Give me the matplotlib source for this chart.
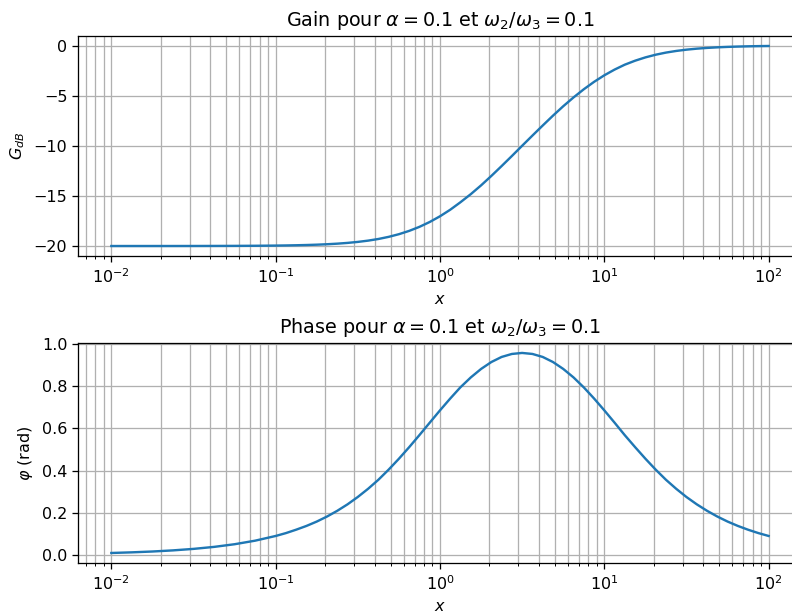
import numpy as np
import matplotlib
matplotlib.use("Agg")
from matplotlib import pyplot as plt

# values
x = [0.01, 0.0133, 0.0178, 0.0237, 0.0316, 0.0422, 0.0562, 0.075, 0.1,
     0.1155, 0.133, 0.154, 0.178, 0.2054, 0.237, 0.2738, 0.316, 0.3652,
     0.422, 0.487, 0.562, 0.6494, 0.75, 0.866, 1.0, 1.1548, 1.33, 1.54,
     1.78, 2.054, 2.37, 2.738, 3.16, 3.652, 4.22, 4.87, 5.62, 6.494, 7.5,
     8.66, 10.0, 11.548, 13.3, 15.4, 17.8, 20.54, 23.7, 27.38, 31.6, 36.52,
     42.2, 48.7, 56.2, 64.94, 75.0, 86.6, 100.0]
gain_db = [-20.0, -19.999, -19.999, -19.998, -19.996, -19.992, -19.986, -19.976,
           -19.957, -19.943, -19.924, -19.899, -19.866, -19.822, -19.765, -19.689,
           -19.59, -19.462, -19.297, -19.086, -18.821, -18.49, -18.086, -17.602,
           -17.033, -16.377, -15.64, -14.824, -13.942, -13.005, -12.027, -11.02,
           -10.0, -8.98, -7.974, -6.995, -6.058, -5.176, -4.362, -3.623, -2.967,
           -2.398, -1.913, -1.51, -1.179, -0.914, -0.703, -0.538, -0.41, -0.311,
           -0.235, -0.178, -0.134, -0.101, -0.076, -0.057, -0.043]
phase_rad = [0.009, 0.012, 0.016, 0.0213, 0.0284, 0.0379, 0.0505, 0.0674,
             0.0897, 0.1034, 0.1193, 0.1374, 0.1582, 0.182, 0.2091, 0.2399,
             0.2747, 0.3136, 0.3566, 0.4045, 0.456, 0.5111, 0.5686, 0.6273,
             0.6857, 0.7421, 0.7948, 0.8421, 0.8825, 0.9151, 0.9391, 0.9534,
             0.9582, 0.9534, 0.9391, 0.9151, 0.8825, 0.8421, 0.7948, 0.7421,
             0.6857, 0.6273, 0.5686, 0.5111, 0.456, 0.4045, 0.3566, 0.3136,
             0.2747, 0.2399, 0.2091, 0.182, 0.1582, 0.1374, 0.1193, 0.1034,
             0.0897]

alpha = 0.1
ratio = 0.1

dpi = 115
fig, (ax1, ax2) = plt.subplots(2, 1, figsize=(792 / dpi, 613 / dpi), dpi=dpi)
# the reference is cropped on the right, so the axes run past the edge
fig.subplots_adjust(left=0.0991, right=1.012, top=0.9413, bottom=0.0816, hspace=0.395)

ax1.semilogx(x, gain_db)
ax1.set_title(rf"Gain pour $\alpha = {alpha}$ et $\omega_2/\omega_3 = {ratio}$")
ax1.set_xlabel("$x$")
ax1.set_ylabel("$G_{dB}$")
ax1.grid(True, which="both")

ax2.semilogx(x, phase_rad)
ax2.set_title(rf"Phase pour $\alpha = {alpha}$ et $\omega_2/\omega_3 = {ratio}$")
ax2.set_xlabel("$x$")
ax2.set_ylabel(r"$\varphi$ (rad)")
ax2.grid(True, which="both")

fig.savefig("out.png", dpi=dpi)
